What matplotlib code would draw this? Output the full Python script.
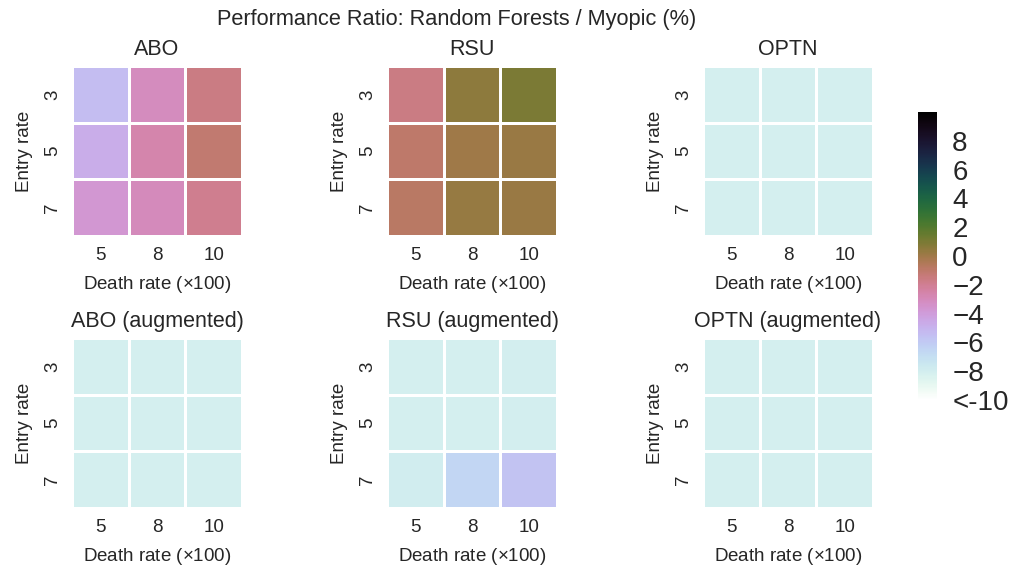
import numpy as np
import matplotlib
matplotlib.use("Agg")
import matplotlib.pyplot as plt
import seaborn as sns

sns.set_style("white")
plt.rcParams['font.family'] = ['Liberation Sans', 'DejaVu Sans']
plt.rcParams['mathtext.fontset'] = 'custom'
plt.rcParams['mathtext.rm'] = 'Liberation Sans'
plt.rcParams['text.color'] = '#262626'
plt.rcParams['axes.labelcolor'] = '#262626'
plt.rcParams['xtick.color'] = '#262626'
plt.rcParams['ytick.color'] = '#262626'

death_rates = [5, 8, 10]
entry_rates = [3, 5, 7]

titles = ["ABO", "RSU", "OPTN", "ABO (augmented)", "RSU (augmented)", "OPTN (augmented)"]

abo = [[-5.4, -3.1, -1.6],
       [-4.7, -2.6, -1.1],
       [-3.7, -3.0, -1.9]]
rsu = [[-1.6, 0.5, 1.0],
       [-1.0, 0.0, 0.2],
       [-0.8, 0.3, 0.2]]
optn = [[-8.1, -8.1, -8.1],
        [-8.1, -8.1, -8.1],
        [-8.1, -8.1, -8.1]]
abo_aug = [[-8.1, -8.1, -8.1],
           [-8.1, -8.1, -8.1],
           [-8.1, -8.1, -8.1]]
rsu_aug = [[-8.1, -8.1, -8.0],
           [-8.1, -8.1, -8.0],
           [-7.9, -6.5, -5.7]]
optn_aug = [[-8.1, -8.1, -8.1],
            [-8.1, -8.1, -8.1],
            [-8.1, -8.1, -8.1]]

all_data = [abo, rsu, optn, abo_aug, rsu_aug, optn_aug]

cbar_ticks = [-10, -8, -6, -4, -2, 0, 2, 4, 6, 8]
cbar_labels = ["<-10"] + ["\u2212%d" % abs(t) if t < 0 else "%d" % t for t in cbar_ticks[1:]]

vmin, vmax = -10, 10
cmap = "cubehelix_r"

fig = plt.figure(figsize=(10.16, 5.69), dpi=100)

lefts = [0.0709, 0.381, 0.692]
bottoms = [0.585, 0.1072]
w, h = 0.1673, 0.2988

for i, data in enumerate(all_data):
    r, c = divmod(i, 3)
    ax = fig.add_axes([lefts[c], bottoms[r], w, h])
    sns.heatmap(np.array(data), ax=ax, cmap=cmap, vmin=vmin, vmax=vmax,
                linewidths=1, linecolor='white', cbar=False,
                xticklabels=death_rates, yticklabels=entry_rates)
    ax.set_title(titles[i], fontsize=15.5, pad=8)
    ax.set_xlabel("Death rate ($\\times$100)", fontsize=13.5, labelpad=7)
    ax.set_ylabel("Entry rate", fontsize=13.5, labelpad=8)
    ax.tick_params(axis='both', labelsize=13.5, length=0, pad=8)
    plt.setp(ax.get_yticklabels(), rotation=90, va='center')

cax = fig.add_axes([0.9035, 0.297, 0.0187, 0.506])
sm = plt.cm.ScalarMappable(cmap=cmap, norm=plt.Normalize(vmin, vmax))
cb = fig.colorbar(sm, cax=cax, ticks=cbar_ticks)
cb.ax.set_yticklabels(cbar_labels)
cb.ax.tick_params(labelsize=20, length=0, pad=11)
cb.outline.set_visible(False)

fig.suptitle("Performance Ratio: Random Forests / Myopic (%)", fontsize=15.7, x=0.449, y=0.985)

fig.savefig("out.png", dpi=100)
